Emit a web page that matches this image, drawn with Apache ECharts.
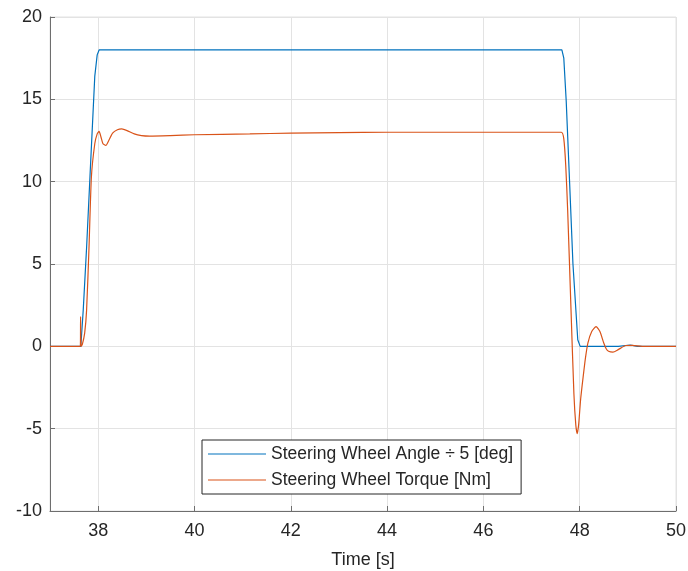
<!DOCTYPE html>
<html>
<head>
<meta charset="utf-8">
<script src="https://cdn.jsdelivr.net/npm/echarts@6/dist/echarts.min.js"></script>
<style>
  html, body { margin: 0; padding: 0; background: #fff; }
  #main { width: 688px; height: 571px; }
</style>
</head>
<body>
<div id="main"></div>
<script>
// time [s] and values
var angleTime = [37, 37.64, 37.69, 37.76, 37.83, 37.93, 37.98, 38.02, 47.63, 47.67, 47.72, 47.79, 47.86, 47.96, 48.01, 48.8, 48.95, 49.05, 49.2, 50];
var angleVals = [0, 0, 2.2, 6, 10.3, 16.4, 17.7, 18, 18, 17.5, 14.9, 10, 5, 0.4, 0, 0, 0.05, 0.08, 0, 0];

var torqueTime = [37, 37.63, 37.635, 37.645, 37.67, 37.72, 37.76, 37.81, 37.86, 37.93, 37.98, 38.02, 38.06, 38.1, 38.16, 38.22, 38.3, 38.4, 38.49, 38.6, 38.75, 38.9, 39.07, 39.5, 40, 41.15, 42, 43, 44, 47.62, 47.67, 47.71, 47.75, 47.82, 47.88, 47.92, 47.95, 47.98, 48.02, 48.07, 48.12, 48.17, 48.25, 48.34, 48.42, 48.5, 48.55, 48.6, 48.69, 48.8, 48.96, 49.1, 49.3, 50];
var torqueVals = [0, 0, 1.8, 0, 0.1, 0.8, 2.2, 6, 10.3, 12.3, 12.9, 13.05, 12.7, 12.3, 12.2, 12.5, 12.95, 13.15, 13.2, 13.1, 12.9, 12.8, 12.77, 12.8, 12.85, 12.9, 12.95, 12.98, 13.0, 13.0, 12.6, 11, 8.3, 2.2, -2.9, -4.8, -5.3, -4.7, -3.2, -1.9, -0.7, 0.2, 0.9, 1.2, 0.9, 0.2, -0.15, -0.3, -0.35, -0.2, 0.05, 0.06, 0, 0];

var xTicks = [38, 40, 42, 44, 46, 48, 50];
var names = ['Steering Wheel Angle \u00f7 5 [deg]', 'Steering Wheel Torque [Nm]'];

function zip(a, b) {
  return a.map(function (t, i) { return [t, b[i]]; });
}

var axisCol = '#6e6e6e';
var gridCol = '#e3e3e3';
var textCol = '#262626';
var font = 'Liberation Sans, Arial, sans-serif';

var chart = echarts.init(document.getElementById('main'));
var option = {
  animation: false,
  backgroundColor: '#fff',
  grid: {
    left: 50, right: 12, top: 17, bottom: 60,
    containLabel: false, outerBoundsMode: 'none',
    show: true, borderColor: gridCol, borderWidth: 1
  },
  legend: {
    data: names,
    orient: 'vertical',
    left: 202, top: 440,
    padding: [4, 8, 4, 6],
    itemGap: 6,
    itemWidth: 58, itemHeight: 1.2,
    itemStyle: { borderWidth: 0 },
    icon: 'rect',
    backgroundColor: '#fff',
    borderColor: '#262626',
    borderWidth: 1,
    borderRadius: 0,
    textStyle: { fontFamily: font, fontSize: 17.5, color: textCol, lineHeight: 20, padding: [0, 0, 0, 0] }
  },
  xAxis: {
    type: 'value', min: 37, max: 50,
    name: 'Time [s]', nameLocation: 'middle', nameGap: 40,
    nameTextStyle: { fontFamily: font, fontSize: 18, color: textCol },
    axisLine: { onZero: false, lineStyle: { color: axisCol } },
    axisTick: { inside: true, length: 5, customValues: xTicks, lineStyle: { color: axisCol } },
    axisLabel: { customValues: xTicks, fontFamily: font, fontSize: 18, color: textCol, margin: 11 },
    splitLine: { show: true, lineStyle: { color: gridCol } }
  },
  yAxis: {
    type: 'value', min: -10, max: 20, interval: 5,
    axisLine: { show: true, onZero: false, lineStyle: { color: axisCol } },
    axisTick: { show: true, inside: true, length: 5, lineStyle: { color: axisCol } },
    axisLabel: { fontFamily: font, fontSize: 18, color: textCol, margin: 8 },
    splitLine: { show: true, lineStyle: { color: gridCol } }
  },
  series: [
    {
      name: names[0], type: 'line', showSymbol: false, symbol: 'none',
      color: '#0072BD', lineStyle: { width: 1.2 },
      data: zip(angleTime, angleVals)
    },
    {
      name: names[1], type: 'line', showSymbol: false, symbol: 'none',
      color: '#D95319', lineStyle: { width: 1.2 },
      smooth: 0.2,
      data: zip(torqueTime, torqueVals)
    }
  ]
};
chart.setOption(option);
</script>
</body>
</html>
